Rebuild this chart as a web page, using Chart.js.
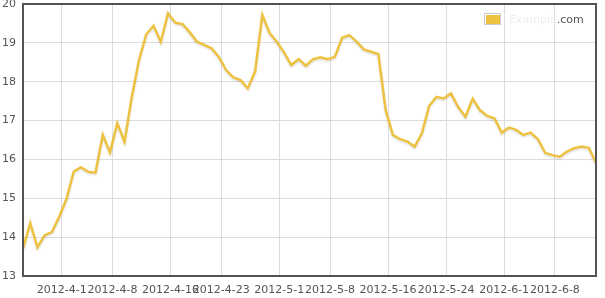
<!DOCTYPE html>
<html><head><meta charset="utf-8">
<script src="https://cdn.jsdelivr.net/npm/chart.js@4/dist/chart.umd.min.js"></script>
<style>html,body{margin:0;padding:0;background:#fff}#wrap{width:605px;height:298px;position:relative}</style>
</head><body><div id="wrap"><canvas id="c"></canvas></div>
<script>
// ---- data ----
const seriesName = 'Example.com';
const firstDate = [2012, 3, 27];           // first daily point (local date, UTC+8)
const values = [
  13.71, 14.36, 13.74, 14.05, 14.13, 14.53, 14.98, 15.69, 15.80, 15.68,
  15.66, 16.63, 16.18, 16.93, 16.46, 17.60, 18.56, 19.22, 19.44, 19.03,
  19.76, 19.52, 19.48, 19.27, 19.03, 18.95, 18.86, 18.64, 18.30, 18.11,
  18.04, 17.83, 18.26, 19.72, 19.25, 19.03, 18.75, 18.43, 18.58, 18.41,
  18.58, 18.63, 18.58, 18.64, 19.13, 19.20, 19.03, 18.83, 18.77, 18.71,
  17.27, 16.63, 16.52, 16.46, 16.33, 16.67, 17.38, 17.61, 17.57, 17.70,
  17.35, 17.10, 17.56, 17.27, 17.12, 17.06, 16.69, 16.82, 16.76, 16.63,
  16.69, 16.52, 16.17, 16.11, 16.07, 16.20, 16.29, 16.33, 16.30, 15.92
];
const xTickLabels = ['2012-4-1','2012-4-8','2012-4-16','2012-4-23','2012-5-1','2012-5-8','2012-5-16','2012-5-24','2012-6-1','2012-6-8'];
const yTickValues = [13, 14, 15, 16, 17, 18, 19, 20];

// ---- derived ----
const DAY = 86400000;
const BASE = Date.UTC(2012, 3, 1);
const TZ = 8 * 3600000;
const points = values.map((v, i) => ({
  x: (Date.UTC(firstDate[0], firstDate[1] - 1, firstDate[2] + i) - TZ - BASE) / DAY,
  y: v
}));
const xTickValues = xTickLabels.map(s => {
  const [y, m, d] = s.split('-').map(Number);
  return (Date.UTC(y, m - 1, d) - BASE) / DAY;
});

const FONT = { family: 'DejaVu Sans', size: 11 };
const TEXT = '#545454';
const LINE = '#edc240';

const framePlugin = {
  id: 'frame',
  beforeDatasetsDraw(chart) {
    const ctx = chart.ctx;
    ctx.save();
    ctx.shadowColor = 'rgba(0,0,0,0.13)';
    ctx.shadowBlur = 2;
    ctx.shadowOffsetY = 1.5;
  },
  afterDatasetsDraw(chart) {
    chart.ctx.restore();
  },
  afterDraw(chart) {
    const { ctx, chartArea: a } = chart;
    ctx.save();
    ctx.strokeStyle = TEXT;
    ctx.lineWidth = 2;
    ctx.strokeRect(a.left, a.top, a.right - a.left, a.bottom - a.top);
    // legend
    const bx = a.right - 112, by = a.top + 9;
    ctx.strokeStyle = '#cccccc';
    ctx.lineWidth = 1;
    ctx.strokeRect(bx + 0.5, by + 0.5, 16, 11);
    ctx.fillStyle = LINE;
    ctx.fillRect(bx + 2, by + 2, 14, 9);
    ctx.font = '11px "DejaVu Sans"';
    ctx.textBaseline = 'middle';
    const name = seriesName;
    const cut = name.lastIndexOf('.');
    const head = name.slice(0, cut), tail = name.slice(cut);
    ctx.fillStyle = '#eeeeee';
    ctx.fillText(head, bx + 25, by + 7);
    ctx.fillStyle = TEXT;
    ctx.fillText(tail, bx + 25 + ctx.measureText(head).width, by + 7);
    ctx.restore();
  }
};

new Chart(document.getElementById('c'), {
  type: 'line',
  data: {
    datasets: [{
      label: seriesName,
      data: points,
      borderColor: LINE,
      backgroundColor: LINE,
      borderWidth: 2.5,
      pointRadius: 0,
      tension: 0,
      fill: false
    }]
  },
  options: {
    responsive: true,
    maintainAspectRatio: false,
    animation: false,
    layout: { padding: { top: 4, right: 9, left: 0, bottom: 0 } },
    plugins: { legend: { display: false }, tooltip: { enabled: false } },
    scales: {
      x: {
        type: 'linear',
        min: points[0].x,
        max: points[points.length - 1].x,
        afterBuildTicks(s) { s.ticks = xTickValues.map(v => ({ value: v })); },
        afterFit(s) { s.height = 22; s.paddingLeft = 0; s.paddingRight = 0; },
        grid: { color: '#dcdcdc', lineWidth: 1, drawTicks: false },
        border: { display: false },
        ticks: {
          autoSkip: false, maxRotation: 0, minRotation: 0,
          padding: 8, color: TEXT, font: FONT,
          callback: (v, i) => xTickLabels[i]
        }
      },
      y: {
        min: 13, max: 20,
        afterBuildTicks(s) { s.ticks = yTickValues.map(v => ({ value: v })); },
        afterFit(s) { s.width = 23; s.paddingTop = 0; s.paddingBottom = 0; },
        grid: { color: '#dcdcdc', lineWidth: 1, drawTicks: false },
        border: { display: false },
        ticks: { padding: 7, color: TEXT, font: FONT, callback: v => String(v) }
      }
    }
  },
  plugins: [framePlugin]
});
</script>
</body></html>
